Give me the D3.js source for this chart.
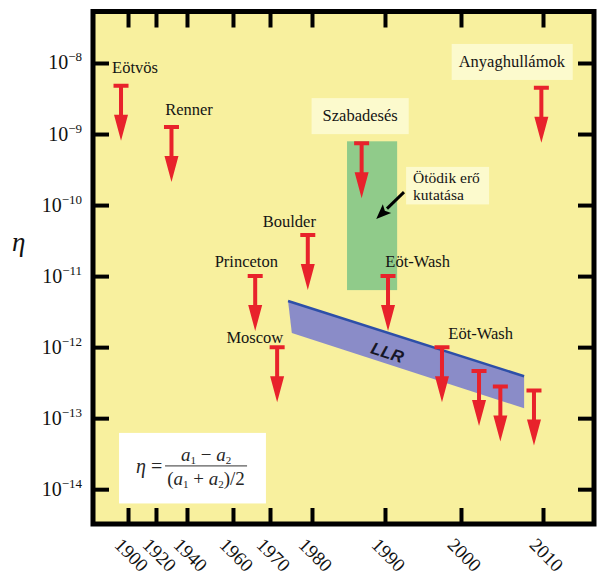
<!DOCTYPE html>
<html><head><meta charset="utf-8">
<script src="https://cdn.jsdelivr.net/npm/d3@7"></script>
<style>body{margin:0;background:#fff} svg{display:block}</style>
</head><body><svg id="c" width="597" height="578"></svg>
<script>
// ---------------- data ----------------
const xTickYears = [1900, 1920, 1940, 1960, 1970, 1980, 1990, 2000, 2010];
const yTickExps = [-8, -9, -10, -11, -12, -13, -14];

const arrowNames = ["Eötvös","Renner","Princeton","Moscow","Boulder","Szabadesés","Eöt-Wash","Eöt-Wash","Eöt-Wash","Eöt-Wash","Eöt-Wash","Anyaghullámok"];
const arrowYears = [1895, 1930, 1966, 1971.7, 1979, 1986.8, 1990.4, 1997.5, 2002.2, 2004.8, 2008.9, 2009.8];
const arrowEta   = [4.8e-9, 1.26e-9, 1e-11, 1e-12, 3.8e-11, 7.4e-10, 1e-11, 1e-12, 4.6e-13, 2.8e-13, 2.45e-13, 4.5e-9];

const labelTexts = ["Eötvös","Renner","Princeton","Boulder","Moscow","Eöt-Wash","Eöt-Wash","Szabadesés","Anyaghullámok"];
const labelYears = [1905, 1940.9, 1963.6, 1974.6, 1965.9, 1994.3, 2002.4, 1986.6, 2006.2];
const labelEta   = [7.2e-9, 1.85e-9, 1.34e-11, 4.9e-11, 1.14e-12, 1.34e-11, 1.30e-12, 1.52e-9, 8.8e-9];
const labelBoxed = [false, false, false, false, false, false, false, true, true];

const fifthForceLines = ["Ötödik erő", "kutatása"];
const fifthForceLabelYear = 1993.7, fifthForceLabelEta = 2.05e-10;
const fifthForceYears = [1984.8, 1991.6];
const fifthForceEta   = [6.35e-12, 7.9e-10];
const pointerYears = [1992.5, 1988.8];
const pointerEta   = [1.52e-10, 6.35e-11];

const llrYears = [1974.3, 2007.7, 2007.7, 1975.2];
const llrEta   = [4.47e-12, 3.89e-13, 1.38e-13, 1.58e-12];
const llrLabel = "LLR", llrLabelYear = 1990.3, llrLabelEta = 8.3e-13;

const formulaBoxYears = [1893.6, 1968.9];
const formulaBoxEta   = [6.3e-15, 6.2e-14];

// ---------------- layout ----------------
const W = 597, H = 578;
const L = 93, R = 594, T = 11.5, B = 524;
const col = {bg:"#f8f09e", box:"#fcfacd", green:"#90cb8a", llr:"#8a8cc8", llrEdge:"#2d4fa8", red:"#e8222b", ink:"#141414"};
const serif = "'Liberation Serif','Times New Roman',serif";

const svg = d3.select("#c");
svg.append("rect").attr("width", W).attr("height", H).attr("fill", "#fff");

// piecewise x scale (axis of the original is non-uniform)
const xBreakFrac = [0, 0.0699, 0.1257, 0.1876, 0.2794, 0.3533, 0.4371, 0.5828, 0.7345, 0.8982, 1];
const x = d3.scaleLinear()
  .domain([1875, ...xTickYears, 2016.3])
  .range(xBreakFrac.map(f => L + f * (R - L)));
const y = d3.scaleLog().domain([Math.pow(10, -14.49), Math.pow(10, -7.275)]).range([B, T]);

// background
svg.append("rect").attr("x", L).attr("y", T).attr("width", R - L).attr("height", B - T).attr("fill", col.bg);

// green band
svg.append("rect")
  .attr("x", x(fifthForceYears[0])).attr("y", y(fifthForceEta[1]))
  .attr("width", x(fifthForceYears[1]) - x(fifthForceYears[0]))
  .attr("height", y(fifthForceEta[0]) - y(fifthForceEta[1]))
  .attr("fill", col.green);

// LLR band
const llrPts = llrYears.map((yr, i) => [x(yr), y(llrEta[i])]);
svg.append("path").attr("d", d3.line()(llrPts) + "Z").attr("fill", col.llr);
svg.append("path").attr("d", d3.line()([llrPts[0], llrPts[1]]))
  .attr("stroke", col.llrEdge).attr("stroke-width", 2.5).attr("fill", "none");
const ang = Math.atan2(llrPts[1][1] - llrPts[0][1], llrPts[1][0] - llrPts[0][0]) * 180 / Math.PI;
svg.append("text")
  .attr("transform", `translate(${x(llrLabelYear)},${y(llrLabelEta)}) rotate(${ang})`)
  .attr("text-anchor", "middle").attr("dominant-baseline", "central")
  .attr("font-family", "'Liberation Sans',Arial,sans-serif").attr("font-weight", "bold")
  .attr("font-style", "italic").attr("font-size", 17).attr("fill", "#161626")
  .text(llrLabel);

// red limit arrows
const capW = 7.5, shaftW = 2, shaftLen = 29, headW = 7, tipLen = 55;
svg.append("g").selectAll("path").data(arrowYears).join("path")
  .attr("d", (yr, i) => {
    const px = x(yr), py = y(arrowEta[i]);
    return `M${px - capW},${py - 2}H${px + capW}V${py + 2}H${px + shaftW}V${py + shaftLen}` +
           `H${px + headW}L${px},${py + tipLen}L${px - headW},${py + shaftLen}H${px - shaftW}V${py + 2}H${px - capW}Z`;
  })
  .attr("fill", col.red);

// labels
const lg = svg.append("g").attr("font-family", serif).attr("font-size", 16.5).attr("fill", col.ink);
labelTexts.forEach((t, i) => {
  const g = lg.append("g");
  const tx = g.append("text").attr("x", x(labelYears[i])).attr("y", y(labelEta[i]))
    .attr("text-anchor", "middle").text(t);
  if (labelBoxed[i]) {
    const bb = tx.node().getBBox();
    const padX = t.length > 11 ? 7 : 11;
    g.insert("rect", "text").attr("x", bb.x - padX).attr("y", bb.y - 8)
      .attr("width", bb.width + 2 * padX).attr("height", bb.height + 17).attr("fill", col.box);
  }
});

// fifth force label + pointer
{
  const g = svg.append("g");
  const tx = g.append("text").attr("font-family", serif).attr("font-size", 15.5).attr("fill", col.ink);
  fifthForceLines.forEach((s, i) => {
    tx.append("tspan").attr("x", x(fifthForceLabelYear)).attr("y", y(fifthForceLabelEta) + i * 17.5).text(s);
  });
  const bb = tx.node().getBBox();
  g.insert("rect", "text").attr("x", bb.x - 7).attr("y", bb.y - 2)
    .attr("width", bb.width + 16).attr("height", bb.height + 3).attr("fill", col.box);

  const x0 = x(pointerYears[0]), y0 = y(pointerEta[0]);
  const x1 = x(pointerYears[1]), y1 = y(pointerEta[1]);
  const dx = x1 - x0, dy = y1 - y0, len = Math.hypot(dx, dy), ux = dx / len, uy = dy / len;
  const hl = 15, hw = 6;
  const bx = x1 - ux * hl, by = y1 - uy * hl;
  svg.append("line").attr("x1", x0).attr("y1", y0).attr("x2", bx).attr("y2", by)
    .attr("stroke", "#000").attr("stroke-width", 3);
  svg.append("path").attr("d", `M${x1},${y1}L${bx - uy * hw},${by + ux * hw}L${bx + ux * 3},${by + uy * 3}L${bx + uy * hw},${by - ux * hw}Z`)
    .attr("fill", "#000");
}

// formula box
{
  const bx0 = x(formulaBoxYears[0]), bx1 = x(formulaBoxYears[1]);
  const by0 = y(formulaBoxEta[1]), by1 = y(formulaBoxEta[0]);
  const g = svg.append("g").attr("font-family", serif).attr("fill", "#262626");
  g.append("rect").attr("x", bx0).attr("y", by0).attr("width", bx1 - bx0).attr("height", by1 - by0).attr("fill", "#fff");
  const cx = bx0 + 87;
  g.append("text").attr("x", bx0 + 17).attr("y", by0 + 40).attr("font-size", 20)
    .call(t => { t.append("tspan").attr("font-style", "italic").text("η"); t.append("tspan").text(" ="); });
  g.append("line").attr("x1", bx0 + 46).attr("x2", bx0 + 128).attr("y1", by0 + 33).attr("y2", by0 + 33)
    .attr("stroke", "#333").attr("stroke-width", 1);
  const num = g.append("text").attr("x", cx).attr("y", by0 + 28).attr("text-anchor", "middle").attr("font-size", 19);
  num.append("tspan").attr("font-style", "italic").text("a");
  num.append("tspan").attr("font-size", 11).attr("dy", 3).text("1");
  num.append("tspan").attr("dy", -3).text(" − ");
  num.append("tspan").attr("font-style", "italic").text("a");
  num.append("tspan").attr("font-size", 11).attr("dy", 3).text("2");
  const den = g.append("text").attr("x", cx).attr("y", by0 + 52).attr("text-anchor", "middle").attr("font-size", 19);
  den.append("tspan").text("(");
  den.append("tspan").attr("font-style", "italic").text("a");
  den.append("tspan").attr("font-size", 11).attr("dy", 3).text("1");
  den.append("tspan").attr("dy", -3).text(" + ");
  den.append("tspan").attr("font-style", "italic").text("a");
  den.append("tspan").attr("font-size", 11).attr("dy", 3).text("2");
  den.append("tspan").attr("dy", -3).text(")/2");
}

// axes (ticks pointing inward)
const tk = 16;
function styleAxis(g) {
  g.select(".domain").remove();
  g.selectAll(".tick line").attr("stroke", "#000").attr("stroke-width", 4);
}
const yVals = yTickExps.map(e => Math.pow(10, e));
svg.append("g").attr("transform", `translate(${L},0)`)
  .call(d3.axisLeft(y).tickValues(yVals).tickSize(-tk).tickPadding(11).tickFormat(""))
  .call(styleAxis)
  .call(g => g.selectAll(".tick").each(function(d, i) {
    const t = d3.select(this).select("text").attr("dy", null).attr("y", 6)
      .attr("font-family", serif).attr("font-size", 20).attr("fill", "#111").attr("text-anchor", "end");
    t.append("tspan").text("10");
    t.append("tspan").attr("font-size", 13).attr("dy", -8).text("−" + Math.abs(yTickExps[i]));
  }));
svg.append("g").attr("transform", `translate(${R},0)`)
  .call(d3.axisRight(y).tickValues(yVals).tickSize(-tk).tickFormat(""))
  .call(styleAxis);
svg.append("g").attr("transform", `translate(0,${T})`)
  .call(d3.axisTop(x).tickValues(xTickYears).tickSize(-tk).tickFormat(""))
  .call(styleAxis);
svg.append("g").attr("transform", `translate(0,${B})`)
  .call(d3.axisBottom(x).tickValues(xTickYears).tickSize(-tk).tickFormat(d3.format("d")))
  .call(styleAxis)
  .call(g => g.selectAll(".tick text").attr("x", 0).attr("y", 0).attr("dy", null)
    .attr("text-anchor", "start").attr("transform", "translate(-15,22) rotate(45)")
    .attr("font-family", serif).attr("font-size", 19).attr("fill", "#111"));

// frame
svg.append("rect").attr("x", L).attr("y", T).attr("width", R - L).attr("height", B - T)
  .attr("fill", "none").attr("stroke", "#000").attr("stroke-width", 5);

// y-axis title
svg.append("text").attr("x", 12).attr("y", y(1e-10) + 46)
  .attr("font-family", serif).attr("font-style", "italic").attr("font-size", 27).attr("fill", "#111").text("η");
</script></body></html>
